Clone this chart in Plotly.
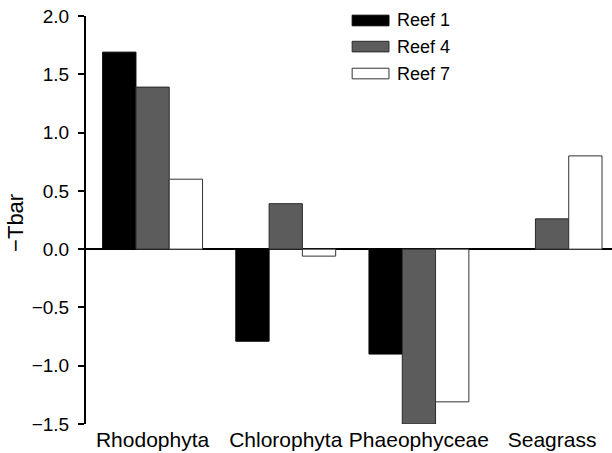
import plotly.graph_objects as go

categories = ["Rhodophyta", "Chlorophyta", "Phaeophyceae", "Seagrass"]
series_names = ["Reef 1", "Reef 4", "Reef 7"]
reef1 = [1.69, -0.79, -0.90, 0.0]
reef4 = [1.39, 0.39, -1.50, 0.26]
reef7 = [0.60, -0.06, -1.31, 0.80]
y_ticks = [2.0, 1.5, 1.0, 0.5, 0.0, -0.5, -1.0, -1.5]
y_tick_labels = ["2.0", "1.5", "1.0", "0.5", "0.0", "\u22120.5", "\u22121.0", "\u22121.5"]

fills = ["#000000", "#5c5c5c", "#ffffff"]
outlines = ["#000000", "#2a2a2a", "#333333"]
FONT = "Liberation Sans, Arial, Helvetica, sans-serif"

fig = go.Figure()
for name, vals, fc, lc in zip(series_names, [reef1, reef4, reef7], fills, outlines):
    fig.add_trace(go.Bar(
        x=categories, y=vals, name=name,
        marker=dict(color=fc, line=dict(color=lc, width=1)),
        showlegend=False, hoverinfo="skip",
    ))

# Custom legend (wide swatches like the reference)
shapes = []
annotations = []
leg_x0, leg_x1 = 0.506, 0.576
row_y = [0.989, 0.925, 0.859]
for name, fc, lc, yc in zip(series_names, fills, outlines, row_y):
    shapes.append(dict(type="rect", xref="paper", yref="paper",
                       x0=leg_x0, x1=leg_x1, y0=yc - 0.013, y1=yc + 0.013,
                       fillcolor=fc, line=dict(color=lc, width=1)))
    annotations.append(dict(xref="paper", yref="paper", x=0.591, y=yc,
                            text=name, showarrow=False, xanchor="left", yanchor="middle",
                            xshift=-2,
                            font=dict(family=FONT, size=18, color="#000000")))

# y-axis title as rotated text
annotations.append(dict(xref="paper", yref="paper", x=-0.133, y=0.493,
                        text="\u2212Tbar", showarrow=False, textangle=-90,
                        xanchor="center", yanchor="middle",
                        font=dict(family=FONT, size=22, color="#000000")))

fig.update_layout(
    width=612, height=453,
    margin=dict(l=86, r=0, t=16, b=29),
    paper_bgcolor="#ffffff", plot_bgcolor="#ffffff",
    barmode="group", bargap=0.25, bargroupgap=0,
    font=dict(family=FONT, size=19, color="#000000"),
    shapes=shapes, annotations=annotations,
    xaxis=dict(
        range=[-0.5, 3.45], showline=False, ticks="", showgrid=False,
        zeroline=False, tickfont=dict(size=21), ticklabelstandoff=1,
        automargin=False,
    ),
    yaxis=dict(
        range=[-1.5, 2.0], tickvals=y_ticks, ticktext=y_tick_labels,
        showline=True, linecolor="#000000", linewidth=2,
        ticks="outside", ticklen=6, tickwidth=2, tickcolor="#000000",
        showgrid=False, zeroline=True, zerolinecolor="#000000", zerolinewidth=2,
        tickfont=dict(size=19), ticklabelstandoff=5, automargin=False,
    ),
)

fig.write_html("out.html", config={"displayModeBar": False},
               post_script="document.body.style.margin='0';")
